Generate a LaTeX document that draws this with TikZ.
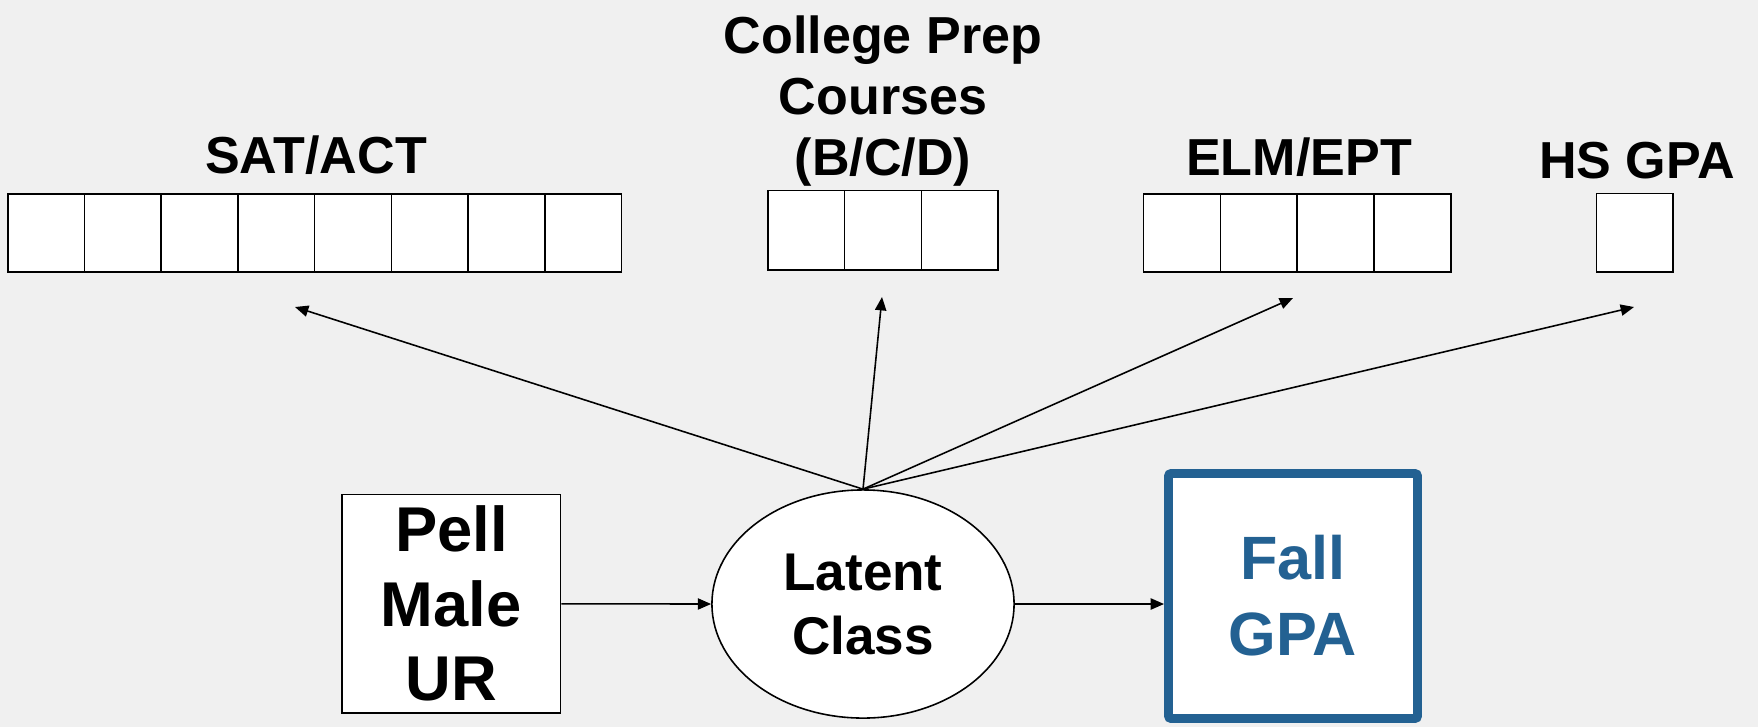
\documentclass[tikz,border=0pt]{standalone}
\usepackage{fontspec}
\setmainfont{Liberation Sans}
\usetikzlibrary{arrows.meta,shapes.geometric}
\definecolor{bggray}{HTML}{F0F0F0}
\definecolor{gpablue}{HTML}{236192}

\begin{document}
\begin{tikzpicture}[x=0.01cm,y=-0.01cm,
  cell/.style={draw=black,fill=white,line width=0.45pt,minimum width=0.767cm,
    minimum height=0.785cm,inner sep=0pt,outer sep=0pt},
  head/.style={font=\fontsize{14.8}{17.3}\selectfont\bfseries,inner sep=0pt,
    anchor=base,align=center},
  link/.style={line width=0.45pt,-{Triangle[length=3.8pt,width=3.2pt]}},
]
% page background
\fill[bggray] (0,0) rectangle (1758,727);
\useasboundingbox (0,0) rectangle (1758,727);

% indicator rows
\foreach \i in {1,...,8}
  \node[cell] (sat\i) at ({46.2+76.7*(\i-1)},233) {};
\foreach \i in {1,...,3}
  \node[cell,minimum height=0.794cm] (cp\i) at ({806.3+76.7*(\i-1)},230.3) {};
\foreach \i in {1,...,4}
  \node[cell] (elm\i) at ({1182+76.8*(\i-1)},233) {};
\node[cell,minimum width=0.762cm] (hs) at (1634.7,232.7) {};

% row headings (base anchor sits on the last line)
\node[head] (satlab) at (316,173) {SAT/ACT};
\node[head] (cplab) at (883,175) {College Prep\\Courses\\(B/C/D)};
\node[head] (elmlab) at (1299,175) {ELM/EPT};
\node[head] (hslab) at (1637,178) {HS GPA};

% structural model
\node[draw,line width=0.45pt,fill=white,minimum width=2.186cm,minimum height=2.185cm,
  inner sep=0pt,align=center,font=\fontsize{18}{21.2}\selectfont\bfseries]
  (pell) at (451.3,603.8) {Pell\\Male\\UR};
\node[ellipse,draw,line width=0.45pt,fill=white,minimum width=3.02cm,minimum height=2.28cm,
  inner sep=0pt,align=center,font=\fontsize{15.1}{18.2}\selectfont\bfseries]
  (latent) at (863,604) {Latent\\Class};
\node[draw=gpablue,line width=2.5pt,rounded corners=0.8pt,fill=white,text=gpablue,
  minimum width=2.49cm,minimum height=2.45cm,inner sep=0pt,align=center,
  font=\fontsize{17.4}{21.6}\selectfont\bfseries]
  (fall) at (1293,596) {Fall\\GPA};

% arrow ends below the indicator rows
\coordinate (tsat) at (295,307);
\coordinate (tcp) at (882,297);
\coordinate (telm) at (1293,298);
\coordinate (ths) at (1634,307);

\draw[link] (latent.north) -- (tsat);
\draw[link] (latent.north) -- (tcp);
\draw[link] (latent.north) -- (telm);
\draw[link] (latent.north) -- (ths);
\draw[link] (pell.east) -- (latent.west);
\draw[link] (latent.east) -- (latent.east -| fall.west);
\end{tikzpicture}
\end{document}
